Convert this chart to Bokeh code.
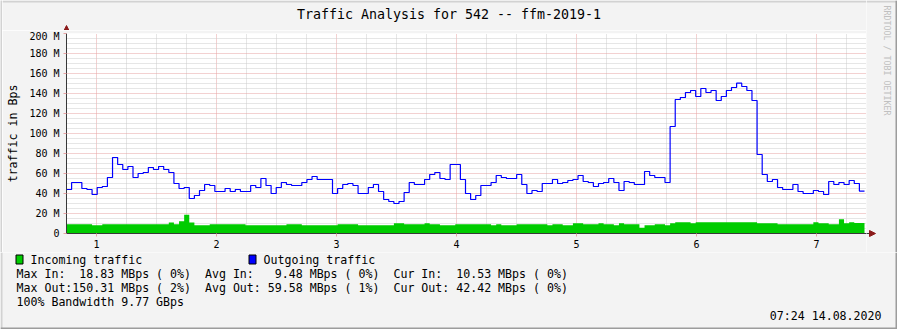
import re
import math
import numpy as np
from bokeh.plotting import figure
from bokeh.models import Range1d, FixedTicker
from bokeh.layouts import row, column
from bokeh.core.properties import value
from bokeh.embed import file_html
from bokeh.resources import INLINE

W, H = 897, 329
FONT = "DejaVu Sans Mono"

# ---------------- data ----------------
title_text = "Traffic Analysis for 542 -- ffm-2019-1"
y_axis_title = "traffic in Bps"
watermark = "RRDTOOL / TOBI OETIKER"
timestamp = "07:24 14.08.2020"

day_labels = ["1", "2", "3", "4", "5", "6", "7"]
day_tick_hours = [6, 30, 54, 78, 102, 126, 150]
y_ticks = [0, 20, 40, 60, 80, 100, 120, 140, 160, 180, 200]
y_tick_labels = ["0", "20 M", "40 M", "60 M", "80 M", "100 M",
                 "120 M", "140 M", "160 M", "180 M", "200 M"]

# hourly-ish samples, MBps
outgoing_mbps = [
    44, 51, 51, 45, 44, 39, 46, 47, 56, 76,
    69, 64, 67, 56, 60, 61, 66, 64, 67, 64,
    61, 50, 45, 46, 35, 38, 43, 49, 48, 42,
    42, 45, 42, 44, 42, 42, 48, 46, 55, 48,
    40, 46, 51, 49, 48, 48, 51, 54, 57, 54,
    54, 54, 40, 45, 49, 50, 48, 40, 40, 46,
    49, 42, 34, 32, 30, 32, 41, 51, 49, 49,
    54, 59, 61, 55, 54, 69, 69, 54, 40, 34,
    38, 48, 48, 51, 58, 56, 55, 55, 59, 49,
    40, 43, 42, 50, 50, 54, 50, 51, 53, 54,
    58, 52, 51, 47, 50, 51, 55, 51, 43, 52,
    51, 49, 49, 62, 58, 56, 56, 51, 107, 134,
    136, 141, 143, 137, 145, 141, 143, 133, 137, 143,
    146, 150.3, 147, 143, 133, 79, 59, 52, 54, 46,
    44, 44, 49, 42, 40, 40, 43, 42, 39, 52,
    49, 51, 49, 53, 50, 42.4,
]
incoming_mbps = [
    9.3, 9.3, 9.3, 9.3, 9.3, 8.3, 8.3, 9.3, 9.3, 9.3,
    9.3, 9.3, 9.3, 9.3, 9.3, 9.3, 9.3, 9.3, 9.3, 9.3,
    11.0, 9.3, 12.3, 18.8, 11.0, 8.3, 8.3, 8.3, 9.3, 9.3,
    9.3, 9.3, 9.3, 9.3, 9.3, 8.3, 8.3, 8.3, 8.3, 8.3,
    8.3, 8.3, 8.3, 9.3, 9.3, 9.3, 8.3, 8.3, 8.3, 8.3,
    8.3, 8.3, 8.3, 9.3, 9.3, 9.3, 9.3, 8.3, 8.3, 8.3,
    8.3, 8.3, 8.3, 8.3, 10.3, 10.3, 9.3, 9.3, 9.3, 9.3,
    10.3, 9.3, 9.3, 8.3, 8.3, 8.3, 9.3, 9.3, 9.3, 9.3,
    9.3, 9.3, 9.3, 8.3, 9.3, 8.3, 8.3, 8.3, 9.3, 9.3,
    9.3, 9.3, 9.3, 9.3, 8.3, 9.3, 9.3, 8.3, 8.3, 10.3,
    10.3, 9.3, 9.3, 9.3, 10.3, 9.3, 9.3, 8.3, 10.3, 9.3,
    9.3, 9.3, 5.7, 8.3, 8.3, 9.3, 9.3, 8.3, 10.3, 11.3,
    11.3, 11.3, 10.3, 11.3, 11.3, 11.3, 11.3, 11.3, 11.3, 11.3,
    11.3, 11.3, 11.3, 11.3, 11.3, 10.3, 10.3, 10.3, 10.3, 9.3,
    9.3, 9.3, 9.3, 9.3, 9.3, 9.3, 11.3, 10.3, 10.3, 9.3,
    9.3, 14.3, 10.3, 11.3, 10.5, 10.5,
]
data_span_hours = 159.6
x_span_hours = 160

series_names = ["Incoming traffic", "Outgoing traffic"]
series_colors = ["#00CC00", "#0000FF"]
stat_labels_in = ["Max In:", "Avg In:", "Cur In:"]
stat_labels_out = ["Max Out:", "Avg Out:", "Cur Out:"]
stats_in = [18.83, 9.48, 10.53]
stats_out = [150.31, 59.58, 42.42]
pct_in = [0, 0, 0]
pct_out = [2, 1, 0]
bandwidth_text = "100% Bandwidth 9.77 GBps"

# ---------------- layout / style ----------------
BACK = "#F3F3F3"
SHADE_A = "#D2D2D2"
SHADE_B = "#9C9C9C"
MAJOR = "#E6A3A3"
MINOR = "#CCCCCC"
AXIS = "#383838"
ARROW = "#8B1A1A"

SHADE = 2               # frame shading width
TOP_H = 30              # title strip height
RIGHT_W = 31            # right strip width
MAIN_H = 222            # main figure height
FRAME_L, FRAME_T = 66, 33
PLOT_W, PLOT_H = 800, 200
Y_MAX = 200
MID_W = W - SHADE - RIGHT_W
BOT_Y = TOP_H + MAIN_H
BOT_H = H - BOT_Y


def aux(w, h, x0, y0, bg=BACK):
    f = figure(width=w, height=h, output_backend="svg", toolbar_location=None,
               x_range=Range1d(x0, x0 + w), y_range=Range1d(y0 + h, y0),
               x_axis_type=None, y_axis_type=None,
               min_border_left=0, min_border_right=0, min_border_top=0,
               min_border_bottom=0, background_fill_color=bg,
               border_fill_color=bg, outline_line_color=None,
               frame_align=False)
    return f


def text(f, x, y, s, size="11.6px", align="left", baseline="alphabetic",
         angle=0.0, color="#000000"):
    f.text(x=[x], y=[y], text=[s], text_font=value(FONT),
           text_font_size=value(size), text_align=align,
           text_baseline=baseline, angle=angle, text_color=color)


def rect(f, l, t, r, b, fill, line=None):
    f.quad(left=[l], right=[r], top=[t], bottom=[b], fill_color=fill,
           line_color=line, line_width=1)


# ---------------- main plot ----------------
p = figure(width=MID_W, height=MAIN_H, output_backend="svg", toolbar_location=None,
           x_range=Range1d(0, x_span_hours), y_range=Range1d(0, Y_MAX),
           min_border_left=FRAME_L - SHADE,
           min_border_right=MID_W - (FRAME_L - SHADE) - PLOT_W,
           min_border_top=FRAME_T - TOP_H,
           min_border_bottom=MAIN_H - (FRAME_T - TOP_H) - PLOT_H,
           background_fill_color="#FFFFFF", frame_align=False,
           border_fill_color=BACK, outline_line_color=None)

minor_x = [h for h in range(6, x_span_hours + 1, 6) if h not in day_tick_hours]
minor_y = [v for v in range(5, Y_MAX + 1, 5) if v not in y_ticks]
xt = FixedTicker(ticks=day_tick_hours, minor_ticks=minor_x)
yt = FixedTicker(ticks=y_ticks, minor_ticks=minor_y)
p.xaxis.ticker = xt
p.xgrid.ticker = xt
p.yaxis.ticker = yt
p.ygrid.ticker = yt

for g in (p.xgrid[0], p.ygrid[0]):
    g.grid_line_color = MAJOR
    g.grid_line_dash = "1 1"
    g.grid_line_width = 1
    g.minor_grid_line_color = MINOR
    g.minor_grid_line_dash = "1 1"
    g.minor_grid_line_width = 1

for ax in (p.xaxis[0], p.yaxis[0]):
    ax.axis_line_color = AXIS
    ax.major_tick_line_color = MAJOR
    ax.major_tick_in = 0
    ax.major_tick_out = 3
    ax.minor_tick_line_color = None
    ax.major_label_text_font = FONT
    ax.major_label_text_font_size = "10px"
    ax.major_label_text_color = "#000000"

p.xaxis.major_label_overrides = dict(zip(day_tick_hours, day_labels))
p.xaxis.major_label_standoff = 2
p.yaxis.major_label_overrides = dict(zip(y_ticks, y_tick_labels))
p.yaxis.major_label_standoff = 3
p.yaxis.axis_label = y_axis_title
p.yaxis.axis_label_text_font = FONT
p.yaxis.axis_label_text_font_size = "11.6px"
p.yaxis.axis_label_text_font_style = "normal"
p.yaxis.axis_label_text_color = "#000000"
p.yaxis.axis_label_standoff = 6

n = len(outgoing_mbps)
edges = np.linspace(0, data_span_hours, n + 1)
in_y = incoming_mbps + [incoming_mbps[-1]]
out_y = outgoing_mbps + [outgoing_mbps[-1]]
p.varea_step(x=edges, y1=np.zeros(n + 1), y2=in_y, step_mode="after",
             fill_color=series_colors[0])
p.step(edges, out_y, mode="after", line_color=series_colors[1], line_width=1.2)

# ---------------- title strip ----------------
t = aux(MID_W, TOP_H, SHADE, 0)
rect(t, SHADE, 0, SHADE + MID_W, SHADE, SHADE_A)
text(t, W / 2, 14, title_text, size="13.3px", align="center")
t.segment(x0=[FRAME_L], y0=[26], x1=[FRAME_L], y1=[TOP_H], line_color=AXIS, line_width=1)
t.patch(x=[FRAME_L - 3, FRAME_L + 3, FRAME_L], y=[TOP_H + 1, TOP_H + 1, 25],
        fill_color=ARROW, line_color=ARROW)

# ---------------- left shade strip ----------------
lstrip = aux(SHADE, BOT_Y, 0, 0, bg=SHADE_A)

# ---------------- right strip ----------------
r = aux(RIGHT_W, BOT_Y, W - RIGHT_W, 0)
rect(r, W - RIGHT_W, 0, W, SHADE, SHADE_A)
rect(r, W - SHADE, 0, W, BOT_Y, SHADE_B)
text(r, 886, 5, watermark, size="8.3px", baseline="middle", angle=-math.pi / 2,
     color="#C0C0C0")
r.segment(x0=[FRAME_L + PLOT_W - 1], y0=[FRAME_T + PLOT_H], x1=[FRAME_L + PLOT_W + 4],
          y1=[FRAME_T + PLOT_H], line_color=AXIS, line_width=1)
r.patch(x=[FRAME_L + PLOT_W + 3, FRAME_L + PLOT_W + 3, FRAME_L + PLOT_W + 9],
        y=[FRAME_T + PLOT_H - 3, FRAME_T + PLOT_H + 3, FRAME_T + PLOT_H],
        fill_color=ARROW, line_color=ARROW)

# ---------------- legend / stats strip ----------------
b = aux(W, BOT_H, 0, BOT_Y)
rect(b, 0, BOT_Y, SHADE, H, SHADE_A)
rect(b, W - SHADE, BOT_Y, W, H, SHADE_B)
rect(b, 0, H - SHADE, W, H, SHADE_B)

rect(b, 15.5, 254.5, 22.5, 263.5, series_colors[0], "#000000")
rect(b, 248.5, 254.5, 255.5, 263.5, series_colors[1], "#000000")
text(b, 30, 259.5, series_names[0])
text(b, 263, 259.5, series_names[1])

CW = 6.98
X0 = 16


def stat_row(labels, vals, pcts):
    return "  ".join(f"{lab:<8}{v:6.2f} MBps ({pc:2d}%)"
                     for lab, v, pc in zip(labels, vals, pcts))


rows = [stat_row(stat_labels_in, stats_in, pct_in),
        stat_row(stat_labels_out, stats_out, pct_out),
        bandwidth_text]
for i, line in enumerate(rows):
    for m in re.finditer(r"\S+(?: \S+)*", line):
        text(b, X0 + m.start() * CW, 273.5 + 14 * i, m.group())

text(b, 881, 315.5, timestamp, align="right")

layout = column(row(lstrip, column(t, p, spacing=0), r, spacing=0), b, spacing=0)
open("out.html", "w").write(file_html(layout, INLINE))
